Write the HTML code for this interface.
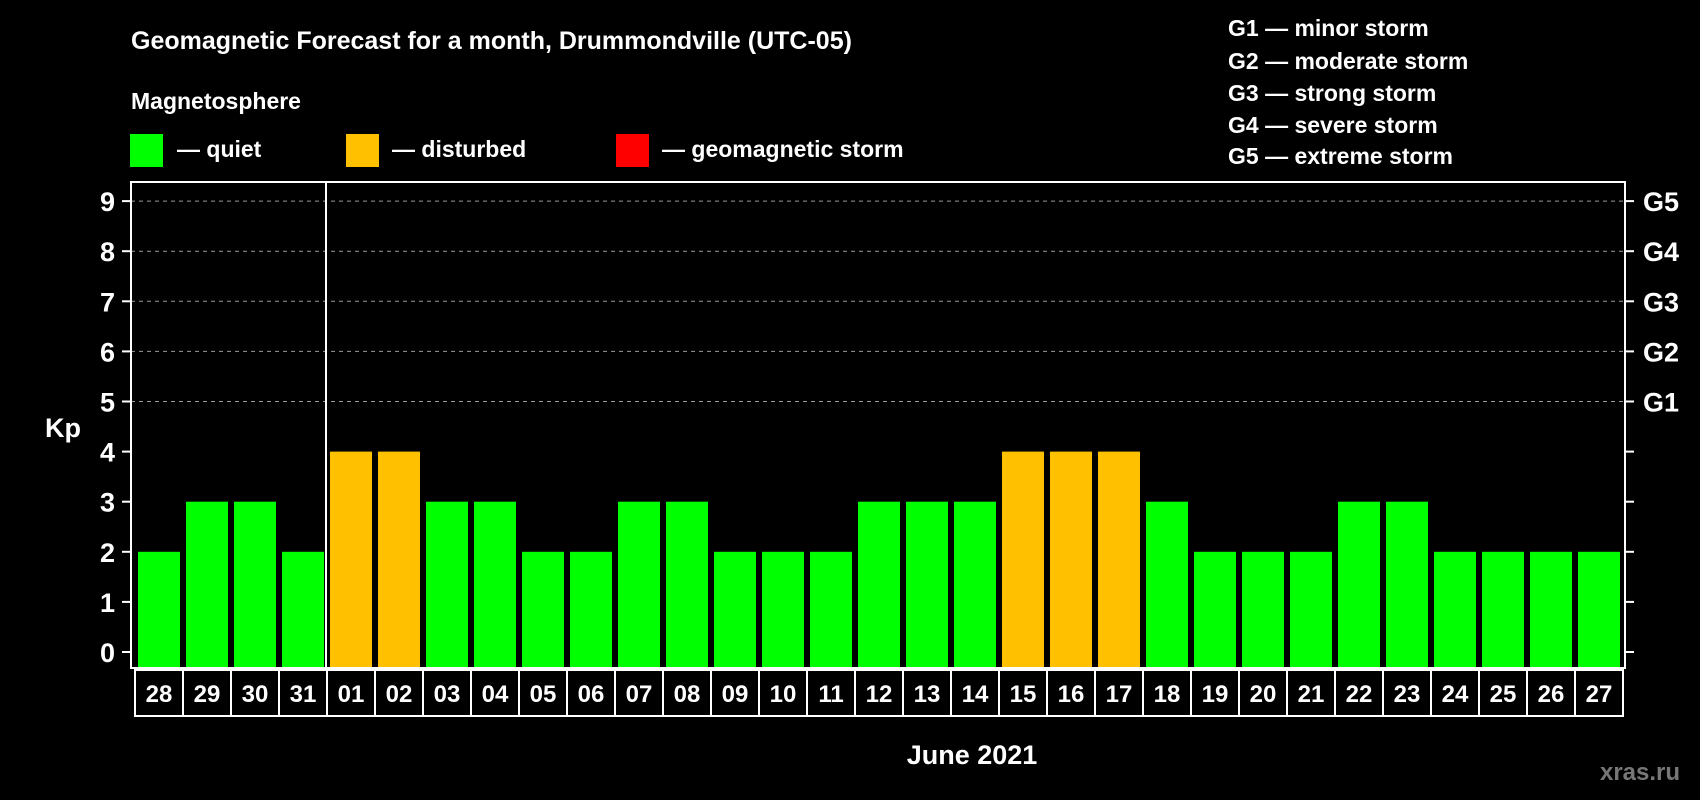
<!DOCTYPE html>
<html><head><meta charset="utf-8"><style>
body{margin:0;background:#000;width:1700px;height:800px;overflow:hidden}
svg{display:block;font-family:"Liberation Sans",Arial,sans-serif;font-weight:bold}
</style></head><body>
<svg id="chart" width="1700" height="800" viewBox="0 0 1700 800">
<rect width="1700" height="800" fill="#000"/>
<text x="131" y="49" fill="#fff" font-size="25">Geomagnetic Forecast for a month, Drummondville (UTC-05)</text>
<text x="131" y="109" fill="#fff" font-size="23">Magnetosphere</text>
<g><rect x="130" y="134" width="33" height="33" fill="#00ff00"/><text x="177" y="157" fill="#fff" font-size="23">— quiet</text></g>
<g><rect x="346" y="134" width="33" height="33" fill="#ffc000"/><text x="392" y="157" fill="#fff" font-size="23">— disturbed</text></g>
<g><rect x="616" y="134" width="33" height="33" fill="#ff0000"/><text x="662" y="157" fill="#fff" font-size="23">— geomagnetic storm</text></g>
<g fill="#fff" font-size="23">
<text x="1228" y="36">G1 — minor storm</text>
<text x="1228" y="69">G2 — moderate storm</text>
<text x="1228" y="101">G3 — strong storm</text>
<text x="1228" y="133">G4 — severe storm</text>
<text x="1228" y="164">G5 — extreme storm</text>
</g>
<text x="63" y="437" fill="#fff" font-size="27" text-anchor="middle">Kp</text>
<text x="972" y="764" fill="#fff" font-size="27" text-anchor="middle">June 2021</text>
<text x="1640" y="780" fill="#777" font-size="24" text-anchor="middle">xras.ru</text>
<g id="grid"></g><g id="bars"></g><g id="axes"></g>
</svg>
<script>
const dates=["28","29","30","31","01","02","03","04","05","06","07","08","09","10","11","12","13","14","15","16","17","18","19","20","21","22","23","24","25","26","27"];
const kpValues=[2,3,3,2,4,4,3,3,2,2,3,3,2,2,2,3,3,3,4,4,4,3,2,2,2,3,3,2,2,2,2];
const yTicks=[0,1,2,3,4,5,6,7,8,9];
const gLabels=["G1","G2","G3","G4","G5"];
const gLevels=[5,6,7,8,9];
const NS="http://www.w3.org/2000/svg";
const L=131,R=1625,T=182,B=668,cellL=135,slot=48;
const y=v=>652-v*50.1;
const xs=i=>cellL+i*slot;
function mk(t,a,p){const e=document.createElementNS(NS,t);for(const k in a)e.setAttribute(k,a[k]);p.appendChild(e);return e;}
const grid=document.getElementById('grid'),bars=document.getElementById('bars'),axes=document.getElementById('axes');
gLevels.forEach((g,i)=>{
 const l=mk('line',{x1:L,x2:R,y1:y(g),y2:y(g),stroke:'#999','stroke-dasharray':'4 4','stroke-width':1},grid);
 
 
 const t=mk('text',{x:1643,y:y(g)+10,fill:'#fff','font-size':27},axes);t.textContent=gLabels[i];
 
 
});
kpValues.forEach((v,i)=>{
 const c=v>=5?'#ff0000':(v>=4?'#ffc000':'#00ff00');
 const b=mk('rect',{x:xs(i)+3,y:y(v),width:42,height:y(0)+16-y(v),fill:c},bars);
 
 
 const r=mk('rect',{x:xs(i),y:670,width:slot,height:46,fill:'none',stroke:'#fff','stroke-width':2},axes);
 
 
 const t=mk('text',{x:xs(i)+slot/2,y:702,fill:'#fff','font-size':24,'text-anchor':'middle'},axes);t.textContent=dates[i];
 
 
});
const f=mk('rect',{x:L,y:T,width:R-L,height:B-T,fill:'none',stroke:'#fff','stroke-width':2},axes);


const sep=mk('line',{x1:xs(4)-1,x2:xs(4)-1,y1:T,y2:B,stroke:'#fff','stroke-width':2},axes);


yTicks.forEach(v=>{
 mk('line',{x1:L-9,x2:L,y1:y(v),y2:y(v),stroke:'#fff','stroke-width':2},axes);
 mk('line',{x1:R,x2:R+9,y1:y(v),y2:y(v),stroke:'#fff','stroke-width':2},axes);
 const t=mk('text',{x:115,y:y(v)+10,fill:'#fff','font-size':27,'text-anchor':'end'},axes);t.textContent=v;
 
 
});
</script>
</body></html>
